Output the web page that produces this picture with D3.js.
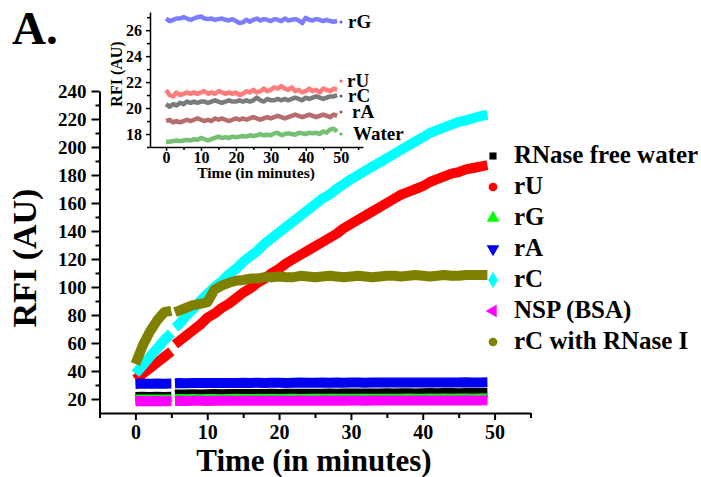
<!DOCTYPE html>
<html>
<head>
    <title>RFI vs Time</title>
    <style>
        body { margin: 0; background: #fff; }
        text { font-family: "Liberation Serif", "Times New Roman", serif; font-weight: bold; }
    </style>
</head>
<body>
    <div id="chart"></div>

    <script src="https://d3js.org/d3.v7.min.js"></script>
    <script>
        // main chart data (time in minutes, gap at ~5 min)
        var mainTime = [0, 1, 2, 3, 4, 5, 5.5, 6, 7, 8, 9, 10, 11, 12, 13, 14, 15, 16, 17, 18, 19, 20,
            21, 22, 23, 24, 25, 26, 27, 28, 29, 30, 31, 32, 33, 34, 35, 36, 37, 38, 39, 40,
            41, 42, 43, 44, 45, 46, 47, 48, 49];
        var gapAt = 5.2;

        var waterVals = [21.5, 21.6, 21.5, 21.6, 21.5, 21.6,
            23.2, 23.3, 23.3, 23.4, 23.3, 23.4, 23.5, 23.4, 23.5, 23.5, 23.6, 23.5, 23.6, 23.6, 23.7, 23.6, 23.7, 23.7, 23.8, 23.7,
            23.8, 23.8, 23.9, 23.8, 23.9, 23.9, 24.0, 23.9, 24.0, 24.0, 24.1, 24.0, 24.1, 24.1, 24.0, 24.1, 24.2, 24.1, 24.2, 24.2,
            24.1, 24.2, 24.3, 24.2, 24.3];
        var rUVals = [34, 38, 42, 46, 50, 54,
            59, 61, 65, 69, 73, 78, 81, 85, 88, 92, 96, 99, 103, 106, 110, 113, 117, 120, 123, 126, 129, 132, 135, 138,
            142, 145, 148, 151, 154, 157, 160, 163, 166, 168, 170, 172, 175, 177, 179, 181, 182, 184, 185, 186, 187];
        var rGVals = [19.6, 19.7, 19.6, 19.7, 19.6, 19.7,
            19.9, 20.0, 19.9, 20.0, 19.9, 20.0, 20.0, 19.9, 20.0, 20.1, 20.0, 20.0, 20.1, 20.0, 20.1, 20.0, 20.1, 20.1, 20.0, 20.1,
            20.1, 20.2, 20.1, 20.1, 20.2, 20.1, 20.2, 20.1, 20.2, 20.2, 20.1, 20.2, 20.2, 20.3, 20.2, 20.2, 20.3, 20.2, 20.3, 20.2,
            20.3, 20.3, 20.2, 20.3, 20.3];
        var rAVals = [30.8, 31.0, 30.9, 31.0, 30.9, 31.0,
            31.3, 31.4, 31.3, 31.4, 31.5, 31.4, 31.5, 31.4, 31.5, 31.5, 31.6, 31.5, 31.6, 31.5, 31.6, 31.6, 31.5, 31.6, 31.7, 31.6,
            31.6, 31.7, 31.6, 31.7, 31.6, 31.7, 31.7, 31.6, 31.7, 31.8, 31.7, 31.7, 31.8, 31.7, 31.8, 31.7, 31.8, 31.8, 31.7, 31.8,
            31.8, 31.9, 31.8, 31.8, 31.9];
        var rCVals = [38, 44, 50, 56, 62, 67,
            71, 73, 79, 84, 90, 95, 100, 104, 109, 113, 118, 122, 126, 131, 135, 139, 143, 147, 151, 155, 159, 163, 166, 170,
            173.5, 177, 180, 183, 186, 189, 192, 195, 198, 201, 204, 207, 210, 212, 214, 216, 218, 219, 220.5, 222, 223];
        var nspVals = [18.4, 18.5, 18.4, 18.5, 18.4, 18.5,
            18.6, 18.7, 18.6, 18.7, 18.7, 18.6, 18.7, 18.8, 18.7, 18.7, 18.8, 18.7, 18.8, 18.7, 18.8, 18.8, 18.7, 18.8, 18.9, 18.8,
            18.8, 18.9, 18.8, 18.9, 18.8, 18.9, 18.9, 18.8, 18.9, 19.0, 18.9, 18.9, 19.0, 18.9, 19.0, 18.9, 19.0, 19.0, 18.9, 19.0,
            19.0, 19.1, 19.0, 19.0, 19.1];
        var rnaseVals = [45, 58, 68, 76, 82, 83,
            82, 83, 85, 87, 88, 89, 98, 101, 103, 104.5, 105, 106, 106, 107, 107, 107.5, 107, 107, 108, 107.5, 107, 107.5, 108, 107.5,
            107, 107.5, 108, 107.5, 107, 107.5, 108, 108, 107.5, 108, 108.5, 108, 107.5, 108, 108.5, 108, 108, 108.5, 108.5, 108.5, 108.5];

        var seriesNames = ["RNase free water", "rU", "rG", "rA", "rC", "NSP (BSA)", "rC with RNase I"];
        var seriesColors = ["#000000", "#ff0000", "#00ff00", "#0000f0", "#00ffff", "#ff00ff", "#808000"];
        var seriesVals = [waterVals, rUVals, rGVals, rAVals, rCVals, nspVals, rnaseVals];

        // inset data
        var insetTime = d3.range(0, 50);
        var inRG = [26.9, 26.7, 26.8, 26.9, 26.9, 27.0, 26.9, 26.8, 26.9, 27.0, 27.05, 26.9, 26.85, 26.9, 26.8, 26.85, 26.9, 26.8, 26.75, 26.85,
            26.7, 26.55, 26.6, 26.8, 26.65, 26.8, 26.9, 26.75, 26.85, 26.8, 26.7, 26.85, 26.8, 26.7, 26.9, 26.75, 26.8, 26.85, 26.75, 26.55,
            26.95, 26.8, 26.75, 26.85, 26.8, 26.7, 26.8, 26.7, 26.65, 26.7];
        var inRU = [21.4, 21.0, 20.9, 21.2, 21.0, 21.1, 21.2, 21.1, 21.2, 21.1, 21.2, 21.3, 21.1, 21.2, 21.1, 21.3, 21.2, 21.1, 21.2, 21.1,
            21.2, 21.0, 21.1, 21.3, 21.2, 21.4, 21.2, 21.3, 21.5, 21.3, 21.4, 21.6, 21.5, 21.7, 21.5, 21.4, 21.6, 21.3, 21.4, 21.2,
            21.3, 21.5, 21.3, 21.4, 21.2, 21.5, 21.4, 21.3, 21.5, 21.4];
        var inRC = [20.3, 20.1, 20.3, 20.2, 20.4, 20.3, 20.5, 20.4, 20.5, 20.4, 20.5, 20.5, 20.4, 20.5, 20.6, 20.5, 20.4, 20.5, 20.6, 20.5,
            20.5, 20.6, 20.5, 20.6, 20.5, 20.6, 20.8, 20.6, 20.5, 20.7, 20.6, 20.6, 20.7, 20.6, 20.7, 20.6, 20.7, 20.8, 20.7, 20.6,
            20.8, 20.7, 20.8, 20.9, 20.8, 20.7, 20.8, 20.9, 20.9, 21.0];
        var inRA = [19.0, 19.1, 18.9, 19.0, 18.9, 19.0, 19.1, 19.0, 19.1, 19.2, 19.1, 19.0, 19.1, 19.0, 19.2, 19.1, 19.2, 19.1, 19.0, 19.1,
            19.2, 19.1, 19.2, 19.1, 19.2, 19.3, 19.2, 19.1, 19.2, 19.3, 19.2, 19.3, 19.4, 19.3, 19.2, 19.3, 19.4, 19.5, 19.4, 19.3,
            19.4, 19.5, 19.4, 19.3, 19.4, 19.5, 19.4, 19.3, 19.5, 19.4];
        var inWater = [17.4, 17.4, 17.45, 17.5, 17.45, 17.5, 17.55, 17.5, 17.6, 17.55, 17.7, 17.6, 17.5, 17.6, 17.7, 17.8, 17.7, 17.75, 17.7, 17.8,
            17.75, 17.8, 17.85, 17.8, 17.9, 17.85, 17.9, 18.0, 17.9, 17.95, 17.9, 18.05, 18.1, 17.9, 18.0, 18.05, 18.0, 17.95, 18.1, 18.05,
            18.0, 18.1, 18.05, 18.1, 18.0, 18.2, 18.1, 18.35, 18.4, 18.2];
        var insetNames = ["rG", "rU", "rC", "rA", "Water"];
        var insetColors = ["#5c5cff", "#ff5c5c", "#5a5a5a", "#a44848", "#52b052"];
        var insetVals = [inRG, inRU, inRC, inRA, inWater];

        var svg = d3.select("#chart").append("svg")
            .attr("width", 701)
            .attr("height", 477);

        // 主图坐标
        var x = d3.scaleLinear().domain([-5, 55]).range([99.5, 530.5]);
        var y = d3.scaleLinear().domain([10, 240]).range([413, 91]);

        function styleAxis(g, w) {
            g.selectAll("path").attr("stroke", "#000").attr("stroke-width", w);
            g.selectAll("line").attr("stroke", "#000").attr("stroke-width", w);
        }

        // x axis
        var gx = svg.append("g").attr("transform", "translate(0,413)")
            .call(d3.axisBottom(x).tickValues([0, 10, 20, 30, 40, 50]).tickSize(7).tickSizeOuter(0).tickPadding(5));
        gx.selectAll("text").attr("font-size", 20).attr("fill", "#000");
        styleAxis(gx, 2);
        var gx2 = svg.append("g").attr("transform", "translate(0,413)")
            .call(d3.axisBottom(x).tickValues([-5, 5, 15, 25, 35, 45, 55]).tickSize(5).tickFormat(""));
        gx2.select(".domain").remove();
        styleAxis(gx2, 2);

        // y axis
        var gy = svg.append("g").attr("transform", "translate(99.5,0)")
            .call(d3.axisLeft(y).tickValues(d3.range(20, 241, 20)).tickSize(8).tickSizeOuter(0).tickPadding(5));
        gy.selectAll("text").attr("font-size", 19).attr("fill", "#000");
        styleAxis(gy, 2);
        var gy2 = svg.append("g").attr("transform", "translate(99.5,0)")
            .call(d3.axisLeft(y).tickValues(d3.range(30, 240, 20)).tickSize(4).tickFormat(""));
        gy2.select(".domain").remove();
        styleAxis(gy2, 2);

        // 数据曲线（粗线模拟密集点）
        var line = d3.line()
            .x(function (d) { return x(d.t); })
            .y(function (d) { return y(d.v); });

        seriesVals.forEach(function (vals, i) {
            var pts = mainTime.map(function (t, j) { return { t: t, v: vals[j] }; });
            var segs = [pts.filter(function (d) { return d.t < gapAt; }),
                        pts.filter(function (d) { return d.t > gapAt; })];
            segs.forEach(function (s) {
                svg.append("path")
                    .datum(s)
                    .attr("d", line)
                    .attr("fill", "none")
                    .attr("stroke", seriesColors[i])
                    .attr("stroke-width", 10)
                    .attr("stroke-linejoin", "round")
                    .attr("stroke-linecap", "butt");
            });
        });

        // 图例
        var symbols = [
            { type: d3.symbolSquare, size: 50, rot: 0 },
            { type: d3.symbolCircle, size: 60, rot: 0 },
            { type: d3.symbolTriangle, size: 70, rot: 0 },
            { type: d3.symbolTriangle, size: 70, rot: 180 },
            { type: d3.symbolDiamond, size: 80, rot: 0 },
            { type: d3.symbolTriangle, size: 70, rot: -90 },
            { type: d3.symbolCircle, size: 60, rot: 0 }
        ];
        var legend = svg.append("g");
        seriesNames.forEach(function (name, i) {
            var by = 163 + i * 31;
            legend.append("path")
                .attr("d", d3.symbol().type(symbols[i].type).size(symbols[i].size)())
                .attr("transform", "translate(493," + (by - 7) + ") rotate(" + symbols[i].rot + ")")
                .attr("fill", seriesColors[i]);
            legend.append("text")
                .attr("x", 514).attr("y", by)
                .attr("font-size", 25)
                .text(name);
        });

        // 坐标轴标题
        svg.append("text")
            .attr("x", 314).attr("y", 471)
            .attr("text-anchor", "middle")
            .attr("font-size", 31)
            .text("Time (in minutes)");
        svg.append("text")
            .attr("transform", "translate(36,258) rotate(-90)")
            .attr("text-anchor", "middle")
            .attr("font-size", 34)
            .text("RFI (AU)");
        svg.append("text")
            .attr("x", 12).attr("y", 44)
            .attr("font-size", 47)
            .text("A.");

        // 插图
        var xi = d3.scaleLinear().domain([-4.6, 56.4]).range([150, 363]);
        var yi = d3.scaleLinear().domain([17, 27.4]).range([147, 12]);

        var gix = svg.append("g").attr("transform", "translate(0,147)")
            .call(d3.axisBottom(xi).tickValues([0, 10, 20, 30, 40, 50]).tickSize(4).tickSizeOuter(0).tickPadding(1));
        gix.selectAll("text").attr("font-size", 16).attr("fill", "#000");
        styleAxis(gix, 1.5);
        var gix2 = svg.append("g").attr("transform", "translate(0,147)")
            .call(d3.axisBottom(xi).tickValues([5, 15, 25, 35, 45, 55]).tickSize(3).tickFormat(""));
        gix2.select(".domain").remove();
        styleAxis(gix2, 1.5);

        var giy = svg.append("g").attr("transform", "translate(150,0)")
            .call(d3.axisLeft(yi).tickValues([18, 20, 22, 24, 26]).tickSize(4).tickSizeOuter(0).tickPadding(4));
        giy.selectAll("text").attr("font-size", 16).attr("fill", "#000");
        styleAxis(giy, 1.5);
        var giy2 = svg.append("g").attr("transform", "translate(150,0)")
            .call(d3.axisLeft(yi).tickValues([17, 19, 21, 23, 25, 27]).tickSize(3).tickFormat(""));
        giy2.select(".domain").remove();
        styleAxis(giy2, 1.5);

        var lineIn = d3.line()
            .x(function (d) { return xi(d.t); })
            .y(function (d) { return yi(d.v); });

        insetVals.forEach(function (vals, i) {
            svg.append("path")
                .datum(insetTime.map(function (t, j) { return { t: t, v: vals[j] }; }))
                .attr("d", lineIn)
                .attr("fill", "none")
                .attr("stroke", insetColors[i])
                .attr("stroke-width", 4.5)
                .attr("stroke-opacity", 0.8)
                .attr("stroke-linejoin", "round");
        });

        // 插图标签
        var insetLabelY = [28, 87, 102, 118, 140];
        var insetLabelX = [348, 347, 348, 352, 353];
        insetNames.forEach(function (name, i) {
            svg.append("circle")
                .attr("cx", 341).attr("cy", insetLabelY[i] - 6)
                .attr("r", 1.5)
                .attr("fill", insetColors[i]);
            svg.append("text")
                .attr("x", insetLabelX[i]).attr("y", insetLabelY[i])
                .attr("font-size", 19)
                .text(name);
        });

        svg.append("text")
            .attr("x", 256).attr("y", 178)
            .attr("text-anchor", "middle")
            .attr("font-size", 15.5)
            .text("Time (in minutes)");
        svg.append("text")
            .attr("transform", "translate(122,74) rotate(-90)")
            .attr("text-anchor", "middle")
            .attr("font-size", 16)
            .text("RFI (AU)");
    </script>
</body>
</html>
